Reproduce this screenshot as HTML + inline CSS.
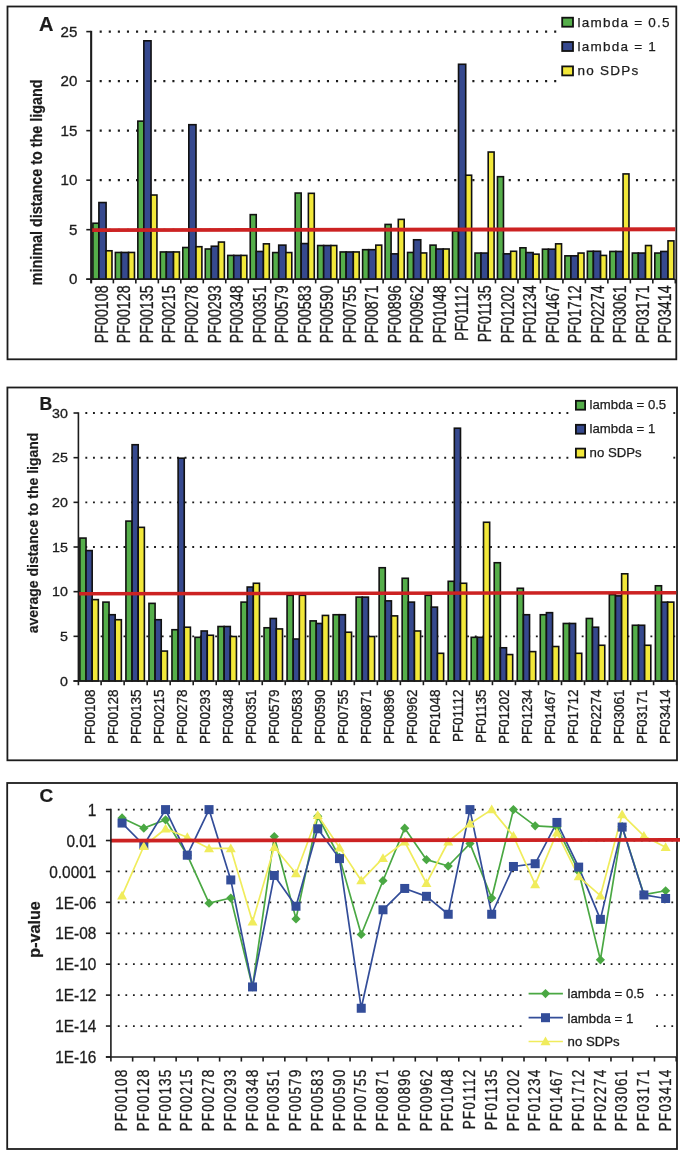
<!DOCTYPE html>
<html><head><meta charset="utf-8"><style>
html,body{margin:0;padding:0;background:#fff;}
svg{display:block;will-change:transform;}
</style></head><body>
<svg width="685" height="1155" viewBox="0 0 685 1155">
<rect width="685" height="1155" fill="#fff"/>
<rect x="7.5" y="6.5" width="668.8" height="352.8" fill="none" stroke="#1c1c1c" stroke-width="1.8"/>
<line x1="99.65" y1="229.68" x2="675.3" y2="229.68" stroke="#1c1c1c" stroke-width="2.1" stroke-dasharray="2.1 6.990"/>
<line x1="99.65" y1="180.16" x2="675.3" y2="180.16" stroke="#1c1c1c" stroke-width="2.1" stroke-dasharray="2.1 6.990"/>
<line x1="99.65" y1="130.64" x2="675.3" y2="130.64" stroke="#1c1c1c" stroke-width="2.1" stroke-dasharray="2.1 6.990"/>
<line x1="99.65" y1="81.12" x2="557" y2="81.12" stroke="#1c1c1c" stroke-width="2.1" stroke-dasharray="2.1 6.990"/>
<line x1="99.65" y1="31.599999999999994" x2="557" y2="31.599999999999994" stroke="#1c1c1c" stroke-width="2.1" stroke-dasharray="2.1 6.990"/>
<rect x="92.89" y="223.24" width="6.00" height="55.96" fill="#55ae4a" stroke="#111" stroke-width="1.6"/>
<rect x="98.89" y="202.54" width="7.20" height="76.66" fill="#36498e" stroke="#111" stroke-width="1.6"/>
<rect x="106.09" y="250.78" width="5.90" height="28.42" fill="#f2e83a" stroke="#111" stroke-width="1.6"/>
<rect x="115.37" y="252.46" width="6.00" height="26.74" fill="#55ae4a" stroke="#111" stroke-width="1.6"/>
<rect x="121.37" y="252.46" width="7.20" height="26.74" fill="#36498e" stroke="#111" stroke-width="1.6"/>
<rect x="128.57" y="252.46" width="5.90" height="26.74" fill="#f2e83a" stroke="#111" stroke-width="1.6"/>
<rect x="137.84" y="121.13" width="6.00" height="158.07" fill="#55ae4a" stroke="#111" stroke-width="1.6"/>
<rect x="143.84" y="40.81" width="7.20" height="238.39" fill="#36498e" stroke="#111" stroke-width="1.6"/>
<rect x="151.04" y="195.02" width="5.90" height="84.18" fill="#f2e83a" stroke="#111" stroke-width="1.6"/>
<rect x="160.32" y="251.96" width="6.00" height="27.24" fill="#55ae4a" stroke="#111" stroke-width="1.6"/>
<rect x="166.32" y="251.96" width="7.20" height="27.24" fill="#36498e" stroke="#111" stroke-width="1.6"/>
<rect x="173.52" y="251.96" width="5.90" height="27.24" fill="#f2e83a" stroke="#111" stroke-width="1.6"/>
<rect x="182.80" y="247.51" width="6.00" height="31.69" fill="#55ae4a" stroke="#111" stroke-width="1.6"/>
<rect x="188.80" y="124.70" width="7.20" height="154.50" fill="#36498e" stroke="#111" stroke-width="1.6"/>
<rect x="196.00" y="246.71" width="5.90" height="32.49" fill="#f2e83a" stroke="#111" stroke-width="1.6"/>
<rect x="205.27" y="248.99" width="6.00" height="30.21" fill="#55ae4a" stroke="#111" stroke-width="1.6"/>
<rect x="211.27" y="246.22" width="7.20" height="32.98" fill="#36498e" stroke="#111" stroke-width="1.6"/>
<rect x="218.47" y="242.06" width="5.90" height="37.14" fill="#f2e83a" stroke="#111" stroke-width="1.6"/>
<rect x="227.75" y="255.43" width="6.00" height="23.77" fill="#55ae4a" stroke="#111" stroke-width="1.6"/>
<rect x="233.75" y="255.43" width="7.20" height="23.77" fill="#36498e" stroke="#111" stroke-width="1.6"/>
<rect x="240.95" y="255.43" width="5.90" height="23.77" fill="#f2e83a" stroke="#111" stroke-width="1.6"/>
<rect x="250.23" y="214.63" width="6.00" height="64.57" fill="#55ae4a" stroke="#111" stroke-width="1.6"/>
<rect x="256.23" y="251.47" width="7.20" height="27.73" fill="#36498e" stroke="#111" stroke-width="1.6"/>
<rect x="263.43" y="243.84" width="5.90" height="35.36" fill="#f2e83a" stroke="#111" stroke-width="1.6"/>
<rect x="272.70" y="252.56" width="6.00" height="26.64" fill="#55ae4a" stroke="#111" stroke-width="1.6"/>
<rect x="278.70" y="245.13" width="7.20" height="34.07" fill="#36498e" stroke="#111" stroke-width="1.6"/>
<rect x="285.90" y="252.56" width="5.90" height="26.64" fill="#f2e83a" stroke="#111" stroke-width="1.6"/>
<rect x="295.18" y="193.04" width="6.00" height="86.16" fill="#55ae4a" stroke="#111" stroke-width="1.6"/>
<rect x="301.18" y="243.55" width="7.20" height="35.65" fill="#36498e" stroke="#111" stroke-width="1.6"/>
<rect x="308.38" y="193.33" width="5.90" height="85.87" fill="#f2e83a" stroke="#111" stroke-width="1.6"/>
<rect x="317.66" y="245.53" width="6.00" height="33.67" fill="#55ae4a" stroke="#111" stroke-width="1.6"/>
<rect x="323.66" y="245.53" width="7.20" height="33.67" fill="#36498e" stroke="#111" stroke-width="1.6"/>
<rect x="330.86" y="245.53" width="5.90" height="33.67" fill="#f2e83a" stroke="#111" stroke-width="1.6"/>
<rect x="340.13" y="251.96" width="6.00" height="27.24" fill="#55ae4a" stroke="#111" stroke-width="1.6"/>
<rect x="346.13" y="251.96" width="7.20" height="27.24" fill="#36498e" stroke="#111" stroke-width="1.6"/>
<rect x="353.33" y="251.96" width="5.90" height="27.24" fill="#f2e83a" stroke="#111" stroke-width="1.6"/>
<rect x="362.61" y="249.69" width="6.00" height="29.51" fill="#55ae4a" stroke="#111" stroke-width="1.6"/>
<rect x="368.61" y="249.69" width="7.20" height="29.51" fill="#36498e" stroke="#111" stroke-width="1.6"/>
<rect x="375.81" y="245.13" width="5.90" height="34.07" fill="#f2e83a" stroke="#111" stroke-width="1.6"/>
<rect x="385.09" y="224.43" width="6.00" height="54.77" fill="#55ae4a" stroke="#111" stroke-width="1.6"/>
<rect x="391.09" y="253.85" width="7.20" height="25.35" fill="#36498e" stroke="#111" stroke-width="1.6"/>
<rect x="398.29" y="219.38" width="5.90" height="59.82" fill="#f2e83a" stroke="#111" stroke-width="1.6"/>
<rect x="407.57" y="252.46" width="6.00" height="26.74" fill="#55ae4a" stroke="#111" stroke-width="1.6"/>
<rect x="413.57" y="239.78" width="7.20" height="39.42" fill="#36498e" stroke="#111" stroke-width="1.6"/>
<rect x="420.77" y="252.95" width="5.90" height="26.25" fill="#f2e83a" stroke="#111" stroke-width="1.6"/>
<rect x="430.04" y="245.13" width="6.00" height="34.07" fill="#55ae4a" stroke="#111" stroke-width="1.6"/>
<rect x="436.04" y="248.99" width="7.20" height="30.21" fill="#36498e" stroke="#111" stroke-width="1.6"/>
<rect x="443.24" y="248.99" width="5.90" height="30.21" fill="#f2e83a" stroke="#111" stroke-width="1.6"/>
<rect x="452.52" y="231.26" width="6.00" height="47.94" fill="#55ae4a" stroke="#111" stroke-width="1.6"/>
<rect x="458.52" y="64.28" width="7.20" height="214.92" fill="#36498e" stroke="#111" stroke-width="1.6"/>
<rect x="465.72" y="175.21" width="5.90" height="103.99" fill="#f2e83a" stroke="#111" stroke-width="1.6"/>
<rect x="475.00" y="253.05" width="6.00" height="26.15" fill="#55ae4a" stroke="#111" stroke-width="1.6"/>
<rect x="481.00" y="253.05" width="7.20" height="26.15" fill="#36498e" stroke="#111" stroke-width="1.6"/>
<rect x="488.20" y="152.03" width="5.90" height="127.17" fill="#f2e83a" stroke="#111" stroke-width="1.6"/>
<rect x="497.47" y="176.69" width="6.00" height="102.51" fill="#55ae4a" stroke="#111" stroke-width="1.6"/>
<rect x="503.47" y="253.85" width="7.20" height="25.35" fill="#36498e" stroke="#111" stroke-width="1.6"/>
<rect x="510.67" y="251.27" width="5.90" height="27.93" fill="#f2e83a" stroke="#111" stroke-width="1.6"/>
<rect x="519.95" y="247.80" width="6.00" height="31.40" fill="#55ae4a" stroke="#111" stroke-width="1.6"/>
<rect x="525.95" y="252.56" width="7.20" height="26.64" fill="#36498e" stroke="#111" stroke-width="1.6"/>
<rect x="533.15" y="254.14" width="5.90" height="25.06" fill="#f2e83a" stroke="#111" stroke-width="1.6"/>
<rect x="542.43" y="249.19" width="6.00" height="30.01" fill="#55ae4a" stroke="#111" stroke-width="1.6"/>
<rect x="548.43" y="249.19" width="7.20" height="30.01" fill="#36498e" stroke="#111" stroke-width="1.6"/>
<rect x="555.63" y="243.84" width="5.90" height="35.36" fill="#f2e83a" stroke="#111" stroke-width="1.6"/>
<rect x="564.90" y="255.83" width="6.00" height="23.37" fill="#55ae4a" stroke="#111" stroke-width="1.6"/>
<rect x="570.90" y="255.83" width="7.20" height="23.37" fill="#36498e" stroke="#111" stroke-width="1.6"/>
<rect x="578.10" y="253.05" width="5.90" height="26.15" fill="#f2e83a" stroke="#111" stroke-width="1.6"/>
<rect x="587.38" y="251.27" width="6.00" height="27.93" fill="#55ae4a" stroke="#111" stroke-width="1.6"/>
<rect x="593.38" y="251.27" width="7.20" height="27.93" fill="#36498e" stroke="#111" stroke-width="1.6"/>
<rect x="600.58" y="255.43" width="5.90" height="23.77" fill="#f2e83a" stroke="#111" stroke-width="1.6"/>
<rect x="609.86" y="251.47" width="6.00" height="27.73" fill="#55ae4a" stroke="#111" stroke-width="1.6"/>
<rect x="615.86" y="251.47" width="7.20" height="27.73" fill="#36498e" stroke="#111" stroke-width="1.6"/>
<rect x="623.06" y="173.92" width="5.90" height="105.28" fill="#f2e83a" stroke="#111" stroke-width="1.6"/>
<rect x="632.33" y="253.05" width="6.00" height="26.15" fill="#55ae4a" stroke="#111" stroke-width="1.6"/>
<rect x="638.33" y="253.05" width="7.20" height="26.15" fill="#36498e" stroke="#111" stroke-width="1.6"/>
<rect x="645.53" y="245.53" width="5.90" height="33.67" fill="#f2e83a" stroke="#111" stroke-width="1.6"/>
<rect x="654.81" y="253.05" width="6.00" height="26.15" fill="#55ae4a" stroke="#111" stroke-width="1.6"/>
<rect x="660.81" y="251.47" width="7.20" height="27.73" fill="#36498e" stroke="#111" stroke-width="1.6"/>
<rect x="668.01" y="240.87" width="5.90" height="38.33" fill="#f2e83a" stroke="#111" stroke-width="1.6"/>
<line x1="91.15" y1="230.1" x2="675.3" y2="229.2" stroke="#cc2222" stroke-width="3.9"/>
<line x1="91.15" y1="30.799999999999994" x2="91.15" y2="283.4" stroke="#1c1c1c" stroke-width="2.1"/>
<line x1="86.30000000000001" y1="279.2" x2="675.3" y2="279.2" stroke="#1c1c1c" stroke-width="1.6"/>
<line x1="86.30000000000001" y1="279.2" x2="90.9" y2="279.2" stroke="#1c1c1c" stroke-width="1.6"/>
<text transform="translate(77.3,284.2) scale(1.08,1)" font-family="Liberation Sans, sans-serif" font-size="14" font-weight="normal" text-anchor="end" fill="#1c1c1c" stroke="#1c1c1c" stroke-width="0.3" >0</text>
<line x1="86.30000000000001" y1="229.68" x2="90.9" y2="229.68" stroke="#1c1c1c" stroke-width="1.6"/>
<text transform="translate(77.3,234.68) scale(1.08,1)" font-family="Liberation Sans, sans-serif" font-size="14" font-weight="normal" text-anchor="end" fill="#1c1c1c" stroke="#1c1c1c" stroke-width="0.3" >5</text>
<line x1="86.30000000000001" y1="180.16" x2="90.9" y2="180.16" stroke="#1c1c1c" stroke-width="1.6"/>
<text transform="translate(77.3,185.16) scale(1.08,1)" font-family="Liberation Sans, sans-serif" font-size="14" font-weight="normal" text-anchor="end" fill="#1c1c1c" stroke="#1c1c1c" stroke-width="0.3" >10</text>
<line x1="86.30000000000001" y1="130.64" x2="90.9" y2="130.64" stroke="#1c1c1c" stroke-width="1.6"/>
<text transform="translate(77.3,135.64) scale(1.08,1)" font-family="Liberation Sans, sans-serif" font-size="14" font-weight="normal" text-anchor="end" fill="#1c1c1c" stroke="#1c1c1c" stroke-width="0.3" >15</text>
<line x1="86.30000000000001" y1="81.12" x2="90.9" y2="81.12" stroke="#1c1c1c" stroke-width="1.6"/>
<text transform="translate(77.3,86.12) scale(1.08,1)" font-family="Liberation Sans, sans-serif" font-size="14" font-weight="normal" text-anchor="end" fill="#1c1c1c" stroke="#1c1c1c" stroke-width="0.3" >20</text>
<line x1="86.30000000000001" y1="31.599999999999994" x2="90.9" y2="31.599999999999994" stroke="#1c1c1c" stroke-width="1.6"/>
<text transform="translate(77.3,36.599999999999994) scale(1.08,1)" font-family="Liberation Sans, sans-serif" font-size="14" font-weight="normal" text-anchor="end" fill="#1c1c1c" stroke="#1c1c1c" stroke-width="0.3" >25</text>
<line x1="113.38" y1="279.2" x2="113.38" y2="283.4" stroke="#1c1c1c" stroke-width="1.6"/>
<line x1="135.85" y1="279.2" x2="135.85" y2="283.4" stroke="#1c1c1c" stroke-width="1.6"/>
<line x1="158.33" y1="279.2" x2="158.33" y2="283.4" stroke="#1c1c1c" stroke-width="1.6"/>
<line x1="180.81" y1="279.2" x2="180.81" y2="283.4" stroke="#1c1c1c" stroke-width="1.6"/>
<line x1="203.28" y1="279.2" x2="203.28" y2="283.4" stroke="#1c1c1c" stroke-width="1.6"/>
<line x1="225.76" y1="279.2" x2="225.76" y2="283.4" stroke="#1c1c1c" stroke-width="1.6"/>
<line x1="248.24" y1="279.2" x2="248.24" y2="283.4" stroke="#1c1c1c" stroke-width="1.6"/>
<line x1="270.72" y1="279.2" x2="270.72" y2="283.4" stroke="#1c1c1c" stroke-width="1.6"/>
<line x1="293.19" y1="279.2" x2="293.19" y2="283.4" stroke="#1c1c1c" stroke-width="1.6"/>
<line x1="315.67" y1="279.2" x2="315.67" y2="283.4" stroke="#1c1c1c" stroke-width="1.6"/>
<line x1="338.15" y1="279.2" x2="338.15" y2="283.4" stroke="#1c1c1c" stroke-width="1.6"/>
<line x1="360.62" y1="279.2" x2="360.62" y2="283.4" stroke="#1c1c1c" stroke-width="1.6"/>
<line x1="383.10" y1="279.2" x2="383.10" y2="283.4" stroke="#1c1c1c" stroke-width="1.6"/>
<line x1="405.58" y1="279.2" x2="405.58" y2="283.4" stroke="#1c1c1c" stroke-width="1.6"/>
<line x1="428.05" y1="279.2" x2="428.05" y2="283.4" stroke="#1c1c1c" stroke-width="1.6"/>
<line x1="450.53" y1="279.2" x2="450.53" y2="283.4" stroke="#1c1c1c" stroke-width="1.6"/>
<line x1="473.01" y1="279.2" x2="473.01" y2="283.4" stroke="#1c1c1c" stroke-width="1.6"/>
<line x1="495.48" y1="279.2" x2="495.48" y2="283.4" stroke="#1c1c1c" stroke-width="1.6"/>
<line x1="517.96" y1="279.2" x2="517.96" y2="283.4" stroke="#1c1c1c" stroke-width="1.6"/>
<line x1="540.44" y1="279.2" x2="540.44" y2="283.4" stroke="#1c1c1c" stroke-width="1.6"/>
<line x1="562.92" y1="279.2" x2="562.92" y2="283.4" stroke="#1c1c1c" stroke-width="1.6"/>
<line x1="585.39" y1="279.2" x2="585.39" y2="283.4" stroke="#1c1c1c" stroke-width="1.6"/>
<line x1="607.87" y1="279.2" x2="607.87" y2="283.4" stroke="#1c1c1c" stroke-width="1.6"/>
<line x1="630.35" y1="279.2" x2="630.35" y2="283.4" stroke="#1c1c1c" stroke-width="1.6"/>
<line x1="652.82" y1="279.2" x2="652.82" y2="283.4" stroke="#1c1c1c" stroke-width="1.6"/>
<line x1="675.30" y1="279.2" x2="675.30" y2="283.4" stroke="#1c1c1c" stroke-width="1.6"/>
<text transform="translate(107.8,285.4) rotate(-90) scale(0.81,1.0)" font-family="Liberation Sans, sans-serif" font-size="17.6" font-weight="normal" text-anchor="end" fill="#1c1c1c" stroke="#1c1c1c" stroke-width="0.3" >PF00108</text>
<text transform="translate(130.34,285.4) rotate(-90) scale(0.81,1.0)" font-family="Liberation Sans, sans-serif" font-size="17.6" font-weight="normal" text-anchor="end" fill="#1c1c1c" stroke="#1c1c1c" stroke-width="0.3" >PF00128</text>
<text transform="translate(152.88,285.4) rotate(-90) scale(0.81,1.0)" font-family="Liberation Sans, sans-serif" font-size="17.6" font-weight="normal" text-anchor="end" fill="#1c1c1c" stroke="#1c1c1c" stroke-width="0.3" >PF00135</text>
<text transform="translate(175.42,285.4) rotate(-90) scale(0.81,1.0)" font-family="Liberation Sans, sans-serif" font-size="17.6" font-weight="normal" text-anchor="end" fill="#1c1c1c" stroke="#1c1c1c" stroke-width="0.3" >PF00215</text>
<text transform="translate(197.96,285.4) rotate(-90) scale(0.81,1.0)" font-family="Liberation Sans, sans-serif" font-size="17.6" font-weight="normal" text-anchor="end" fill="#1c1c1c" stroke="#1c1c1c" stroke-width="0.3" >PF00278</text>
<text transform="translate(220.49999999999997,285.4) rotate(-90) scale(0.81,1.0)" font-family="Liberation Sans, sans-serif" font-size="17.6" font-weight="normal" text-anchor="end" fill="#1c1c1c" stroke="#1c1c1c" stroke-width="0.3" >PF00293</text>
<text transform="translate(243.04,285.4) rotate(-90) scale(0.81,1.0)" font-family="Liberation Sans, sans-serif" font-size="17.6" font-weight="normal" text-anchor="end" fill="#1c1c1c" stroke="#1c1c1c" stroke-width="0.3" >PF00348</text>
<text transform="translate(265.58000000000004,285.4) rotate(-90) scale(0.81,1.0)" font-family="Liberation Sans, sans-serif" font-size="17.6" font-weight="normal" text-anchor="end" fill="#1c1c1c" stroke="#1c1c1c" stroke-width="0.3" >PF00351</text>
<text transform="translate(288.12,285.4) rotate(-90) scale(0.81,1.0)" font-family="Liberation Sans, sans-serif" font-size="17.6" font-weight="normal" text-anchor="end" fill="#1c1c1c" stroke="#1c1c1c" stroke-width="0.3" >PF00579</text>
<text transform="translate(310.66,285.4) rotate(-90) scale(0.81,1.0)" font-family="Liberation Sans, sans-serif" font-size="17.6" font-weight="normal" text-anchor="end" fill="#1c1c1c" stroke="#1c1c1c" stroke-width="0.3" >PF00583</text>
<text transform="translate(333.2,285.4) rotate(-90) scale(0.81,1.0)" font-family="Liberation Sans, sans-serif" font-size="17.6" font-weight="normal" text-anchor="end" fill="#1c1c1c" stroke="#1c1c1c" stroke-width="0.3" >PF00590</text>
<text transform="translate(355.74,285.4) rotate(-90) scale(0.81,1.0)" font-family="Liberation Sans, sans-serif" font-size="17.6" font-weight="normal" text-anchor="end" fill="#1c1c1c" stroke="#1c1c1c" stroke-width="0.3" >PF00755</text>
<text transform="translate(378.28000000000003,285.4) rotate(-90) scale(0.81,1.0)" font-family="Liberation Sans, sans-serif" font-size="17.6" font-weight="normal" text-anchor="end" fill="#1c1c1c" stroke="#1c1c1c" stroke-width="0.3" >PF00871</text>
<text transform="translate(400.82,285.4) rotate(-90) scale(0.81,1.0)" font-family="Liberation Sans, sans-serif" font-size="17.6" font-weight="normal" text-anchor="end" fill="#1c1c1c" stroke="#1c1c1c" stroke-width="0.3" >PF00896</text>
<text transform="translate(423.36,285.4) rotate(-90) scale(0.81,1.0)" font-family="Liberation Sans, sans-serif" font-size="17.6" font-weight="normal" text-anchor="end" fill="#1c1c1c" stroke="#1c1c1c" stroke-width="0.3" >PF00962</text>
<text transform="translate(445.9,285.4) rotate(-90) scale(0.81,1.0)" font-family="Liberation Sans, sans-serif" font-size="17.6" font-weight="normal" text-anchor="end" fill="#1c1c1c" stroke="#1c1c1c" stroke-width="0.3" >PF01048</text>
<text transform="translate(468.44,285.4) rotate(-90) scale(0.81,1.0)" font-family="Liberation Sans, sans-serif" font-size="17.6" font-weight="normal" text-anchor="end" fill="#1c1c1c" stroke="#1c1c1c" stroke-width="0.3" >PF01112</text>
<text transform="translate(490.98,285.4) rotate(-90) scale(0.81,1.0)" font-family="Liberation Sans, sans-serif" font-size="17.6" font-weight="normal" text-anchor="end" fill="#1c1c1c" stroke="#1c1c1c" stroke-width="0.3" >PF01135</text>
<text transform="translate(513.52,285.4) rotate(-90) scale(0.81,1.0)" font-family="Liberation Sans, sans-serif" font-size="17.6" font-weight="normal" text-anchor="end" fill="#1c1c1c" stroke="#1c1c1c" stroke-width="0.3" >PF01202</text>
<text transform="translate(536.0600000000001,285.4) rotate(-90) scale(0.81,1.0)" font-family="Liberation Sans, sans-serif" font-size="17.6" font-weight="normal" text-anchor="end" fill="#1c1c1c" stroke="#1c1c1c" stroke-width="0.3" >PF01234</text>
<text transform="translate(558.6,285.4) rotate(-90) scale(0.81,1.0)" font-family="Liberation Sans, sans-serif" font-size="17.6" font-weight="normal" text-anchor="end" fill="#1c1c1c" stroke="#1c1c1c" stroke-width="0.3" >PF01467</text>
<text transform="translate(581.14,285.4) rotate(-90) scale(0.81,1.0)" font-family="Liberation Sans, sans-serif" font-size="17.6" font-weight="normal" text-anchor="end" fill="#1c1c1c" stroke="#1c1c1c" stroke-width="0.3" >PF01712</text>
<text transform="translate(603.6800000000001,285.4) rotate(-90) scale(0.81,1.0)" font-family="Liberation Sans, sans-serif" font-size="17.6" font-weight="normal" text-anchor="end" fill="#1c1c1c" stroke="#1c1c1c" stroke-width="0.3" >PF02274</text>
<text transform="translate(626.22,285.4) rotate(-90) scale(0.81,1.0)" font-family="Liberation Sans, sans-serif" font-size="17.6" font-weight="normal" text-anchor="end" fill="#1c1c1c" stroke="#1c1c1c" stroke-width="0.3" >PF03061</text>
<text transform="translate(648.7600000000001,285.4) rotate(-90) scale(0.81,1.0)" font-family="Liberation Sans, sans-serif" font-size="17.6" font-weight="normal" text-anchor="end" fill="#1c1c1c" stroke="#1c1c1c" stroke-width="0.3" >PF03171</text>
<text transform="translate(671.3000000000001,285.4) rotate(-90) scale(0.81,1.0)" font-family="Liberation Sans, sans-serif" font-size="17.6" font-weight="normal" text-anchor="end" fill="#1c1c1c" stroke="#1c1c1c" stroke-width="0.3" >PF03414</text>
<text transform="translate(41.8,182.4) rotate(-90) scale(1.02,1.2)" font-family="Liberation Sans, sans-serif" font-size="14.1" font-weight="bold" text-anchor="middle" fill="#1c1c1c" stroke="#1c1c1c" stroke-width="0.2" >minimal distance to the ligand</text>
<text x="39.0" y="31.3" font-family="Liberation Sans, sans-serif" font-size="20" font-weight="bold" text-anchor="start" fill="#1c1c1c" stroke="#1c1c1c" stroke-width="0.2" >A</text>
<rect x="557" y="9" width="118" height="81" fill="#fff"/>
<rect x="562.2" y="17.7" width="10.8" height="9.0" fill="#55ae4a" stroke="#111" stroke-width="1.8"/>
<text x="577.4" y="26.5" font-family="Liberation Sans, sans-serif" font-size="13.5" font-weight="normal" text-anchor="start" fill="#1c1c1c" stroke="#1c1c1c" stroke-width="0.25" letter-spacing="1.25">lambda = 0.5</text>
<rect x="562.2" y="42.0" width="10.8" height="9.0" fill="#36498e" stroke="#111" stroke-width="1.8"/>
<text x="577.4" y="50.5" font-family="Liberation Sans, sans-serif" font-size="13.5" font-weight="normal" text-anchor="start" fill="#1c1c1c" stroke="#1c1c1c" stroke-width="0.25" letter-spacing="1.25">lambda = 1</text>
<rect x="562.2" y="66.4" width="10.8" height="9.0" fill="#f2e83a" stroke="#111" stroke-width="1.8"/>
<text x="577.4" y="74.6" font-family="Liberation Sans, sans-serif" font-size="13.5" font-weight="normal" text-anchor="start" fill="#1c1c1c" stroke="#1c1c1c" stroke-width="0.25" letter-spacing="1.25">no SDPs</text>
<rect x="7.4" y="387.5" width="669.6" height="372.79999999999995" fill="none" stroke="#1c1c1c" stroke-width="1.8"/>
<line x1="85.35" y1="636.335" x2="676.6" y2="636.335" stroke="#1c1c1c" stroke-width="1.9" stroke-dasharray="1.9 5.736"/>
<line x1="85.35" y1="547.005" x2="676.6" y2="547.005" stroke="#1c1c1c" stroke-width="1.9" stroke-dasharray="1.9 5.736"/>
<line x1="85.35" y1="502.34000000000003" x2="676.6" y2="502.34000000000003" stroke="#1c1c1c" stroke-width="1.9" stroke-dasharray="1.9 5.736"/>
<line x1="85.35" y1="457.675" x2="569" y2="457.675" stroke="#1c1c1c" stroke-width="1.9" stroke-dasharray="1.9 5.736"/>
<line x1="673.32" y1="457.675" x2="676.6" y2="457.675" stroke="#1c1c1c" stroke-width="1.9" stroke-dasharray="1.9 5.736"/>
<line x1="85.35" y1="413.01" x2="569" y2="413.01" stroke="#1c1c1c" stroke-width="1.9" stroke-dasharray="1.9 5.736"/>
<line x1="673.32" y1="413.01" x2="676.6" y2="413.01" stroke="#1c1c1c" stroke-width="1.9" stroke-dasharray="1.9 5.736"/>
<rect x="79.88" y="538.07" width="6.15" height="142.93" fill="#55ae4a" stroke="#111" stroke-width="1.6"/>
<rect x="86.03" y="550.58" width="6.15" height="130.42" fill="#36498e" stroke="#111" stroke-width="1.6"/>
<rect x="92.18" y="599.62" width="6.15" height="81.38" fill="#f2e83a" stroke="#111" stroke-width="1.6"/>
<rect x="102.90" y="602.12" width="6.15" height="78.88" fill="#55ae4a" stroke="#111" stroke-width="1.6"/>
<rect x="109.05" y="614.72" width="6.15" height="66.28" fill="#36498e" stroke="#111" stroke-width="1.6"/>
<rect x="115.20" y="619.72" width="6.15" height="61.28" fill="#f2e83a" stroke="#111" stroke-width="1.6"/>
<rect x="125.92" y="521.10" width="6.15" height="159.90" fill="#55ae4a" stroke="#111" stroke-width="1.6"/>
<rect x="132.07" y="444.72" width="6.15" height="236.28" fill="#36498e" stroke="#111" stroke-width="1.6"/>
<rect x="138.22" y="527.35" width="6.15" height="153.65" fill="#f2e83a" stroke="#111" stroke-width="1.6"/>
<rect x="148.94" y="603.37" width="6.15" height="77.63" fill="#55ae4a" stroke="#111" stroke-width="1.6"/>
<rect x="155.09" y="619.72" width="6.15" height="61.28" fill="#36498e" stroke="#111" stroke-width="1.6"/>
<rect x="161.24" y="651.07" width="6.15" height="29.93" fill="#f2e83a" stroke="#111" stroke-width="1.6"/>
<rect x="171.96" y="629.72" width="6.15" height="51.28" fill="#55ae4a" stroke="#111" stroke-width="1.6"/>
<rect x="178.11" y="458.21" width="6.15" height="222.79" fill="#36498e" stroke="#111" stroke-width="1.6"/>
<rect x="184.26" y="627.22" width="6.15" height="53.78" fill="#f2e83a" stroke="#111" stroke-width="1.6"/>
<rect x="194.98" y="637.32" width="6.15" height="43.68" fill="#55ae4a" stroke="#111" stroke-width="1.6"/>
<rect x="201.13" y="630.98" width="6.15" height="50.02" fill="#36498e" stroke="#111" stroke-width="1.6"/>
<rect x="207.28" y="635.26" width="6.15" height="45.74" fill="#f2e83a" stroke="#111" stroke-width="1.6"/>
<rect x="218.00" y="626.51" width="6.15" height="54.49" fill="#55ae4a" stroke="#111" stroke-width="1.6"/>
<rect x="224.15" y="626.51" width="6.15" height="54.49" fill="#36498e" stroke="#111" stroke-width="1.6"/>
<rect x="230.30" y="636.51" width="6.15" height="44.49" fill="#f2e83a" stroke="#111" stroke-width="1.6"/>
<rect x="241.02" y="602.12" width="6.15" height="78.88" fill="#55ae4a" stroke="#111" stroke-width="1.6"/>
<rect x="247.17" y="587.02" width="6.15" height="93.98" fill="#36498e" stroke="#111" stroke-width="1.6"/>
<rect x="253.32" y="583.27" width="6.15" height="97.73" fill="#f2e83a" stroke="#111" stroke-width="1.6"/>
<rect x="264.04" y="627.76" width="6.15" height="53.24" fill="#55ae4a" stroke="#111" stroke-width="1.6"/>
<rect x="270.19" y="618.47" width="6.15" height="62.53" fill="#36498e" stroke="#111" stroke-width="1.6"/>
<rect x="276.34" y="628.92" width="6.15" height="52.08" fill="#f2e83a" stroke="#111" stroke-width="1.6"/>
<rect x="287.06" y="595.33" width="6.15" height="85.67" fill="#55ae4a" stroke="#111" stroke-width="1.6"/>
<rect x="293.21" y="639.01" width="6.15" height="41.99" fill="#36498e" stroke="#111" stroke-width="1.6"/>
<rect x="299.36" y="595.33" width="6.15" height="85.67" fill="#f2e83a" stroke="#111" stroke-width="1.6"/>
<rect x="310.08" y="620.88" width="6.15" height="60.12" fill="#55ae4a" stroke="#111" stroke-width="1.6"/>
<rect x="316.23" y="623.47" width="6.15" height="57.53" fill="#36498e" stroke="#111" stroke-width="1.6"/>
<rect x="322.38" y="615.43" width="6.15" height="65.57" fill="#f2e83a" stroke="#111" stroke-width="1.6"/>
<rect x="333.10" y="614.72" width="6.15" height="66.28" fill="#55ae4a" stroke="#111" stroke-width="1.6"/>
<rect x="339.25" y="614.72" width="6.15" height="66.28" fill="#36498e" stroke="#111" stroke-width="1.6"/>
<rect x="345.40" y="632.23" width="6.15" height="48.77" fill="#f2e83a" stroke="#111" stroke-width="1.6"/>
<rect x="356.12" y="597.12" width="6.15" height="83.88" fill="#55ae4a" stroke="#111" stroke-width="1.6"/>
<rect x="362.27" y="597.12" width="6.15" height="83.88" fill="#36498e" stroke="#111" stroke-width="1.6"/>
<rect x="368.42" y="636.51" width="6.15" height="44.49" fill="#f2e83a" stroke="#111" stroke-width="1.6"/>
<rect x="379.13" y="567.73" width="6.15" height="113.27" fill="#55ae4a" stroke="#111" stroke-width="1.6"/>
<rect x="385.28" y="600.87" width="6.15" height="80.13" fill="#36498e" stroke="#111" stroke-width="1.6"/>
<rect x="391.43" y="615.88" width="6.15" height="65.12" fill="#f2e83a" stroke="#111" stroke-width="1.6"/>
<rect x="402.15" y="578.27" width="6.15" height="102.73" fill="#55ae4a" stroke="#111" stroke-width="1.6"/>
<rect x="408.30" y="602.12" width="6.15" height="78.88" fill="#36498e" stroke="#111" stroke-width="1.6"/>
<rect x="414.45" y="630.98" width="6.15" height="50.02" fill="#f2e83a" stroke="#111" stroke-width="1.6"/>
<rect x="425.17" y="595.33" width="6.15" height="85.67" fill="#55ae4a" stroke="#111" stroke-width="1.6"/>
<rect x="431.32" y="607.12" width="6.15" height="73.88" fill="#36498e" stroke="#111" stroke-width="1.6"/>
<rect x="437.47" y="653.31" width="6.15" height="27.69" fill="#f2e83a" stroke="#111" stroke-width="1.6"/>
<rect x="448.19" y="581.31" width="6.15" height="99.69" fill="#55ae4a" stroke="#111" stroke-width="1.6"/>
<rect x="454.34" y="428.20" width="6.15" height="252.80" fill="#36498e" stroke="#111" stroke-width="1.6"/>
<rect x="460.49" y="583.27" width="6.15" height="97.73" fill="#f2e83a" stroke="#111" stroke-width="1.6"/>
<rect x="471.21" y="637.32" width="6.15" height="43.68" fill="#55ae4a" stroke="#111" stroke-width="1.6"/>
<rect x="477.36" y="637.32" width="6.15" height="43.68" fill="#36498e" stroke="#111" stroke-width="1.6"/>
<rect x="483.51" y="522.26" width="6.15" height="158.74" fill="#f2e83a" stroke="#111" stroke-width="1.6"/>
<rect x="494.23" y="562.73" width="6.15" height="118.27" fill="#55ae4a" stroke="#111" stroke-width="1.6"/>
<rect x="500.38" y="647.77" width="6.15" height="33.23" fill="#36498e" stroke="#111" stroke-width="1.6"/>
<rect x="506.53" y="654.56" width="6.15" height="26.44" fill="#f2e83a" stroke="#111" stroke-width="1.6"/>
<rect x="517.25" y="588.28" width="6.15" height="92.72" fill="#55ae4a" stroke="#111" stroke-width="1.6"/>
<rect x="523.40" y="614.72" width="6.15" height="66.28" fill="#36498e" stroke="#111" stroke-width="1.6"/>
<rect x="529.55" y="651.61" width="6.15" height="29.39" fill="#f2e83a" stroke="#111" stroke-width="1.6"/>
<rect x="540.27" y="614.72" width="6.15" height="66.28" fill="#55ae4a" stroke="#111" stroke-width="1.6"/>
<rect x="546.42" y="612.66" width="6.15" height="68.34" fill="#36498e" stroke="#111" stroke-width="1.6"/>
<rect x="552.57" y="646.52" width="6.15" height="34.48" fill="#f2e83a" stroke="#111" stroke-width="1.6"/>
<rect x="563.29" y="623.47" width="6.15" height="57.53" fill="#55ae4a" stroke="#111" stroke-width="1.6"/>
<rect x="569.44" y="623.47" width="6.15" height="57.53" fill="#36498e" stroke="#111" stroke-width="1.6"/>
<rect x="575.59" y="653.31" width="6.15" height="27.69" fill="#f2e83a" stroke="#111" stroke-width="1.6"/>
<rect x="586.31" y="618.47" width="6.15" height="62.53" fill="#55ae4a" stroke="#111" stroke-width="1.6"/>
<rect x="592.46" y="627.22" width="6.15" height="53.78" fill="#36498e" stroke="#111" stroke-width="1.6"/>
<rect x="598.61" y="645.27" width="6.15" height="35.73" fill="#f2e83a" stroke="#111" stroke-width="1.6"/>
<rect x="609.33" y="594.62" width="6.15" height="86.38" fill="#55ae4a" stroke="#111" stroke-width="1.6"/>
<rect x="615.48" y="595.87" width="6.15" height="85.13" fill="#36498e" stroke="#111" stroke-width="1.6"/>
<rect x="621.63" y="573.80" width="6.15" height="107.20" fill="#f2e83a" stroke="#111" stroke-width="1.6"/>
<rect x="632.35" y="625.26" width="6.15" height="55.74" fill="#55ae4a" stroke="#111" stroke-width="1.6"/>
<rect x="638.50" y="625.26" width="6.15" height="55.74" fill="#36498e" stroke="#111" stroke-width="1.6"/>
<rect x="644.65" y="645.27" width="6.15" height="35.73" fill="#f2e83a" stroke="#111" stroke-width="1.6"/>
<rect x="655.37" y="585.77" width="6.15" height="95.23" fill="#55ae4a" stroke="#111" stroke-width="1.6"/>
<rect x="661.52" y="602.12" width="6.15" height="78.88" fill="#36498e" stroke="#111" stroke-width="1.6"/>
<rect x="667.67" y="602.12" width="6.15" height="78.88" fill="#f2e83a" stroke="#111" stroke-width="1.6"/>
<line x1="78.4" y1="593.8" x2="676.3" y2="592.7" stroke="#cc2222" stroke-width="3.6"/>
<line x1="78.4" y1="412.21" x2="78.4" y2="685.2" stroke="#1c1c1c" stroke-width="1.6"/>
<line x1="73.5" y1="681.0" x2="676.6" y2="681.0" stroke="#1c1c1c" stroke-width="1.6"/>
<line x1="73.5" y1="681.0" x2="78.1" y2="681.0" stroke="#1c1c1c" stroke-width="1.6"/>
<text transform="translate(67.9,685.7) scale(1.08,1)" font-family="Liberation Sans, sans-serif" font-size="13.2" font-weight="normal" text-anchor="end" fill="#1c1c1c" stroke="#1c1c1c" stroke-width="0.3" >0</text>
<line x1="73.5" y1="636.335" x2="78.1" y2="636.335" stroke="#1c1c1c" stroke-width="1.6"/>
<text transform="translate(67.9,641.0350000000001) scale(1.08,1)" font-family="Liberation Sans, sans-serif" font-size="13.2" font-weight="normal" text-anchor="end" fill="#1c1c1c" stroke="#1c1c1c" stroke-width="0.3" >5</text>
<line x1="73.5" y1="591.67" x2="78.1" y2="591.67" stroke="#1c1c1c" stroke-width="1.6"/>
<text transform="translate(67.9,596.37) scale(1.08,1)" font-family="Liberation Sans, sans-serif" font-size="13.2" font-weight="normal" text-anchor="end" fill="#1c1c1c" stroke="#1c1c1c" stroke-width="0.3" >10</text>
<line x1="73.5" y1="547.005" x2="78.1" y2="547.005" stroke="#1c1c1c" stroke-width="1.6"/>
<text transform="translate(67.9,551.705) scale(1.08,1)" font-family="Liberation Sans, sans-serif" font-size="13.2" font-weight="normal" text-anchor="end" fill="#1c1c1c" stroke="#1c1c1c" stroke-width="0.3" >15</text>
<line x1="73.5" y1="502.34000000000003" x2="78.1" y2="502.34000000000003" stroke="#1c1c1c" stroke-width="1.6"/>
<text transform="translate(67.9,507.04) scale(1.08,1)" font-family="Liberation Sans, sans-serif" font-size="13.2" font-weight="normal" text-anchor="end" fill="#1c1c1c" stroke="#1c1c1c" stroke-width="0.3" >20</text>
<line x1="73.5" y1="457.675" x2="78.1" y2="457.675" stroke="#1c1c1c" stroke-width="1.6"/>
<text transform="translate(67.9,462.375) scale(1.08,1)" font-family="Liberation Sans, sans-serif" font-size="13.2" font-weight="normal" text-anchor="end" fill="#1c1c1c" stroke="#1c1c1c" stroke-width="0.3" >25</text>
<line x1="73.5" y1="413.01" x2="78.1" y2="413.01" stroke="#1c1c1c" stroke-width="1.6"/>
<text transform="translate(67.9,417.71) scale(1.08,1)" font-family="Liberation Sans, sans-serif" font-size="13.2" font-weight="normal" text-anchor="end" fill="#1c1c1c" stroke="#1c1c1c" stroke-width="0.3" >30</text>
<line x1="101.12" y1="681.0" x2="101.12" y2="685.2" stroke="#1c1c1c" stroke-width="1.6"/>
<line x1="124.14" y1="681.0" x2="124.14" y2="685.2" stroke="#1c1c1c" stroke-width="1.6"/>
<line x1="147.16" y1="681.0" x2="147.16" y2="685.2" stroke="#1c1c1c" stroke-width="1.6"/>
<line x1="170.18" y1="681.0" x2="170.18" y2="685.2" stroke="#1c1c1c" stroke-width="1.6"/>
<line x1="193.20" y1="681.0" x2="193.20" y2="685.2" stroke="#1c1c1c" stroke-width="1.6"/>
<line x1="216.22" y1="681.0" x2="216.22" y2="685.2" stroke="#1c1c1c" stroke-width="1.6"/>
<line x1="239.23" y1="681.0" x2="239.23" y2="685.2" stroke="#1c1c1c" stroke-width="1.6"/>
<line x1="262.25" y1="681.0" x2="262.25" y2="685.2" stroke="#1c1c1c" stroke-width="1.6"/>
<line x1="285.27" y1="681.0" x2="285.27" y2="685.2" stroke="#1c1c1c" stroke-width="1.6"/>
<line x1="308.29" y1="681.0" x2="308.29" y2="685.2" stroke="#1c1c1c" stroke-width="1.6"/>
<line x1="331.31" y1="681.0" x2="331.31" y2="685.2" stroke="#1c1c1c" stroke-width="1.6"/>
<line x1="354.33" y1="681.0" x2="354.33" y2="685.2" stroke="#1c1c1c" stroke-width="1.6"/>
<line x1="377.35" y1="681.0" x2="377.35" y2="685.2" stroke="#1c1c1c" stroke-width="1.6"/>
<line x1="400.37" y1="681.0" x2="400.37" y2="685.2" stroke="#1c1c1c" stroke-width="1.6"/>
<line x1="423.39" y1="681.0" x2="423.39" y2="685.2" stroke="#1c1c1c" stroke-width="1.6"/>
<line x1="446.41" y1="681.0" x2="446.41" y2="685.2" stroke="#1c1c1c" stroke-width="1.6"/>
<line x1="469.43" y1="681.0" x2="469.43" y2="685.2" stroke="#1c1c1c" stroke-width="1.6"/>
<line x1="492.45" y1="681.0" x2="492.45" y2="685.2" stroke="#1c1c1c" stroke-width="1.6"/>
<line x1="515.47" y1="681.0" x2="515.47" y2="685.2" stroke="#1c1c1c" stroke-width="1.6"/>
<line x1="538.48" y1="681.0" x2="538.48" y2="685.2" stroke="#1c1c1c" stroke-width="1.6"/>
<line x1="561.50" y1="681.0" x2="561.50" y2="685.2" stroke="#1c1c1c" stroke-width="1.6"/>
<line x1="584.52" y1="681.0" x2="584.52" y2="685.2" stroke="#1c1c1c" stroke-width="1.6"/>
<line x1="607.54" y1="681.0" x2="607.54" y2="685.2" stroke="#1c1c1c" stroke-width="1.6"/>
<line x1="630.56" y1="681.0" x2="630.56" y2="685.2" stroke="#1c1c1c" stroke-width="1.6"/>
<line x1="653.58" y1="681.0" x2="653.58" y2="685.2" stroke="#1c1c1c" stroke-width="1.6"/>
<line x1="676.60" y1="681.0" x2="676.60" y2="685.2" stroke="#1c1c1c" stroke-width="1.6"/>
<text transform="translate(95.45,689.5) rotate(-90) scale(0.885,1.0)" font-family="Liberation Sans, sans-serif" font-size="15.2" font-weight="normal" text-anchor="end" fill="#1c1c1c" stroke="#1c1c1c" stroke-width="0.3" >PF00108</text>
<text transform="translate(118.44,689.5) rotate(-90) scale(0.885,1.0)" font-family="Liberation Sans, sans-serif" font-size="15.2" font-weight="normal" text-anchor="end" fill="#1c1c1c" stroke="#1c1c1c" stroke-width="0.3" >PF00128</text>
<text transform="translate(141.43,689.5) rotate(-90) scale(0.885,1.0)" font-family="Liberation Sans, sans-serif" font-size="15.2" font-weight="normal" text-anchor="end" fill="#1c1c1c" stroke="#1c1c1c" stroke-width="0.3" >PF00135</text>
<text transform="translate(164.42000000000002,689.5) rotate(-90) scale(0.885,1.0)" font-family="Liberation Sans, sans-serif" font-size="15.2" font-weight="normal" text-anchor="end" fill="#1c1c1c" stroke="#1c1c1c" stroke-width="0.3" >PF00215</text>
<text transform="translate(187.41000000000003,689.5) rotate(-90) scale(0.885,1.0)" font-family="Liberation Sans, sans-serif" font-size="15.2" font-weight="normal" text-anchor="end" fill="#1c1c1c" stroke="#1c1c1c" stroke-width="0.3" >PF00278</text>
<text transform="translate(210.4,689.5) rotate(-90) scale(0.885,1.0)" font-family="Liberation Sans, sans-serif" font-size="15.2" font-weight="normal" text-anchor="end" fill="#1c1c1c" stroke="#1c1c1c" stroke-width="0.3" >PF00293</text>
<text transform="translate(233.39000000000001,689.5) rotate(-90) scale(0.885,1.0)" font-family="Liberation Sans, sans-serif" font-size="15.2" font-weight="normal" text-anchor="end" fill="#1c1c1c" stroke="#1c1c1c" stroke-width="0.3" >PF00348</text>
<text transform="translate(256.38,689.5) rotate(-90) scale(0.885,1.0)" font-family="Liberation Sans, sans-serif" font-size="15.2" font-weight="normal" text-anchor="end" fill="#1c1c1c" stroke="#1c1c1c" stroke-width="0.3" >PF00351</text>
<text transform="translate(279.37,689.5) rotate(-90) scale(0.885,1.0)" font-family="Liberation Sans, sans-serif" font-size="15.2" font-weight="normal" text-anchor="end" fill="#1c1c1c" stroke="#1c1c1c" stroke-width="0.3" >PF00579</text>
<text transform="translate(302.36,689.5) rotate(-90) scale(0.885,1.0)" font-family="Liberation Sans, sans-serif" font-size="15.2" font-weight="normal" text-anchor="end" fill="#1c1c1c" stroke="#1c1c1c" stroke-width="0.3" >PF00583</text>
<text transform="translate(325.34999999999997,689.5) rotate(-90) scale(0.885,1.0)" font-family="Liberation Sans, sans-serif" font-size="15.2" font-weight="normal" text-anchor="end" fill="#1c1c1c" stroke="#1c1c1c" stroke-width="0.3" >PF00590</text>
<text transform="translate(348.34,689.5) rotate(-90) scale(0.885,1.0)" font-family="Liberation Sans, sans-serif" font-size="15.2" font-weight="normal" text-anchor="end" fill="#1c1c1c" stroke="#1c1c1c" stroke-width="0.3" >PF00755</text>
<text transform="translate(371.33,689.5) rotate(-90) scale(0.885,1.0)" font-family="Liberation Sans, sans-serif" font-size="15.2" font-weight="normal" text-anchor="end" fill="#1c1c1c" stroke="#1c1c1c" stroke-width="0.3" >PF00871</text>
<text transform="translate(394.32,689.5) rotate(-90) scale(0.885,1.0)" font-family="Liberation Sans, sans-serif" font-size="15.2" font-weight="normal" text-anchor="end" fill="#1c1c1c" stroke="#1c1c1c" stroke-width="0.3" >PF00896</text>
<text transform="translate(417.31,689.5) rotate(-90) scale(0.885,1.0)" font-family="Liberation Sans, sans-serif" font-size="15.2" font-weight="normal" text-anchor="end" fill="#1c1c1c" stroke="#1c1c1c" stroke-width="0.3" >PF00962</text>
<text transform="translate(440.3,689.5) rotate(-90) scale(0.885,1.0)" font-family="Liberation Sans, sans-serif" font-size="15.2" font-weight="normal" text-anchor="end" fill="#1c1c1c" stroke="#1c1c1c" stroke-width="0.3" >PF01048</text>
<text transform="translate(463.29,689.5) rotate(-90) scale(0.885,1.0)" font-family="Liberation Sans, sans-serif" font-size="15.2" font-weight="normal" text-anchor="end" fill="#1c1c1c" stroke="#1c1c1c" stroke-width="0.3" >PF01112</text>
<text transform="translate(486.28000000000003,689.5) rotate(-90) scale(0.885,1.0)" font-family="Liberation Sans, sans-serif" font-size="15.2" font-weight="normal" text-anchor="end" fill="#1c1c1c" stroke="#1c1c1c" stroke-width="0.3" >PF01135</text>
<text transform="translate(509.27000000000004,689.5) rotate(-90) scale(0.885,1.0)" font-family="Liberation Sans, sans-serif" font-size="15.2" font-weight="normal" text-anchor="end" fill="#1c1c1c" stroke="#1c1c1c" stroke-width="0.3" >PF01202</text>
<text transform="translate(532.2599999999999,689.5) rotate(-90) scale(0.885,1.0)" font-family="Liberation Sans, sans-serif" font-size="15.2" font-weight="normal" text-anchor="end" fill="#1c1c1c" stroke="#1c1c1c" stroke-width="0.3" >PF01234</text>
<text transform="translate(555.2499999999999,689.5) rotate(-90) scale(0.885,1.0)" font-family="Liberation Sans, sans-serif" font-size="15.2" font-weight="normal" text-anchor="end" fill="#1c1c1c" stroke="#1c1c1c" stroke-width="0.3" >PF01467</text>
<text transform="translate(578.2399999999999,689.5) rotate(-90) scale(0.885,1.0)" font-family="Liberation Sans, sans-serif" font-size="15.2" font-weight="normal" text-anchor="end" fill="#1c1c1c" stroke="#1c1c1c" stroke-width="0.3" >PF01712</text>
<text transform="translate(601.2299999999999,689.5) rotate(-90) scale(0.885,1.0)" font-family="Liberation Sans, sans-serif" font-size="15.2" font-weight="normal" text-anchor="end" fill="#1c1c1c" stroke="#1c1c1c" stroke-width="0.3" >PF02274</text>
<text transform="translate(624.2199999999999,689.5) rotate(-90) scale(0.885,1.0)" font-family="Liberation Sans, sans-serif" font-size="15.2" font-weight="normal" text-anchor="end" fill="#1c1c1c" stroke="#1c1c1c" stroke-width="0.3" >PF03061</text>
<text transform="translate(647.2099999999999,689.5) rotate(-90) scale(0.885,1.0)" font-family="Liberation Sans, sans-serif" font-size="15.2" font-weight="normal" text-anchor="end" fill="#1c1c1c" stroke="#1c1c1c" stroke-width="0.3" >PF03171</text>
<text transform="translate(670.1999999999999,689.5) rotate(-90) scale(0.885,1.0)" font-family="Liberation Sans, sans-serif" font-size="15.2" font-weight="normal" text-anchor="end" fill="#1c1c1c" stroke="#1c1c1c" stroke-width="0.3" >PF03414</text>
<text transform="translate(37.8,533) rotate(-90) scale(1.0,1.0)" font-family="Liberation Sans, sans-serif" font-size="14.0" font-weight="bold" text-anchor="middle" fill="#1c1c1c" stroke="#1c1c1c" stroke-width="0.2" >average distance to the ligand</text>
<text x="39.6" y="409.9" font-family="Liberation Sans, sans-serif" font-size="17.6" font-weight="bold" text-anchor="start" fill="#1c1c1c" stroke="#1c1c1c" stroke-width="0.2" >B</text>
<rect x="569" y="392" width="104" height="73" fill="#fff"/>
<rect x="575.9" y="400.8" width="9.2" height="8.9" fill="#55ae4a" stroke="#111" stroke-width="1.8"/>
<text x="589.6" y="408.9" font-family="Liberation Sans, sans-serif" font-size="13.2" font-weight="normal" text-anchor="start" fill="#1c1c1c" stroke="#1c1c1c" stroke-width="0.25" letter-spacing="0">lambda = 0.5</text>
<rect x="575.9" y="424.8" width="9.2" height="8.9" fill="#36498e" stroke="#111" stroke-width="1.8"/>
<text x="589.6" y="432.8" font-family="Liberation Sans, sans-serif" font-size="13.2" font-weight="normal" text-anchor="start" fill="#1c1c1c" stroke="#1c1c1c" stroke-width="0.25" letter-spacing="0">lambda = 1</text>
<rect x="575.9" y="448.6" width="9.2" height="8.9" fill="#f2e83a" stroke="#111" stroke-width="1.8"/>
<text x="589.6" y="456.6" font-family="Liberation Sans, sans-serif" font-size="13.2" font-weight="normal" text-anchor="start" fill="#1c1c1c" stroke="#1c1c1c" stroke-width="0.25" letter-spacing="0">no SDPs</text>
<rect x="7.2" y="783" width="669.8" height="366" fill="none" stroke="#1c1c1c" stroke-width="1.8"/>
<line x1="117.80" y1="809.6" x2="674" y2="809.6" stroke="#1c1c1c" stroke-width="1.8" stroke-dasharray="1.8 5.783"/>
<line x1="117.80" y1="840.52" x2="674" y2="840.52" stroke="#1c1c1c" stroke-width="1.8" stroke-dasharray="1.8 5.783"/>
<line x1="117.80" y1="871.44" x2="674" y2="871.44" stroke="#1c1c1c" stroke-width="1.8" stroke-dasharray="1.8 5.783"/>
<line x1="117.80" y1="902.36" x2="674" y2="902.36" stroke="#1c1c1c" stroke-width="1.8" stroke-dasharray="1.8 5.783"/>
<line x1="117.80" y1="933.28" x2="674" y2="933.28" stroke="#1c1c1c" stroke-width="1.8" stroke-dasharray="1.8 5.783"/>
<line x1="117.80" y1="964.2" x2="674" y2="964.2" stroke="#1c1c1c" stroke-width="1.8" stroke-dasharray="1.8 5.783"/>
<line x1="117.80" y1="995.12" x2="523" y2="995.12" stroke="#1c1c1c" stroke-width="1.8" stroke-dasharray="1.8 5.783"/>
<line x1="656.19" y1="995.12" x2="674" y2="995.12" stroke="#1c1c1c" stroke-width="1.8" stroke-dasharray="1.8 5.783"/>
<line x1="117.80" y1="1026.04" x2="523" y2="1026.04" stroke="#1c1c1c" stroke-width="1.8" stroke-dasharray="1.8 5.783"/>
<line x1="656.19" y1="1026.04" x2="674" y2="1026.04" stroke="#1c1c1c" stroke-width="1.8" stroke-dasharray="1.8 5.783"/>
<polyline points="122.07,817.95 143.81,828.15 165.56,819.80 187.30,855.21 209.04,903.13 230.78,898.03 252.53,986.93 274.27,836.50 296.01,918.90 317.75,816.25 339.49,857.37 361.24,934.52 382.98,880.72 404.72,828.15 426.46,859.69 448.21,866.03 469.95,843.61 491.69,898.03 513.43,809.60 535.17,825.83 556.92,827.07 578.66,871.44 600.40,959.87 622.14,826.61 643.89,894.63 665.63,890.76" fill="none" stroke="#4aa843" stroke-width="1.7" stroke-linejoin="round"/>
<polyline points="122.07,823.05 143.81,845.00 165.56,809.60 187.30,855.21 209.04,809.60 230.78,879.94 252.53,986.93 274.27,875.46 296.01,906.23 317.75,828.77 339.49,858.61 361.24,1008.26 382.98,909.78 404.72,888.45 426.46,896.33 448.21,914.26 469.95,809.60 491.69,914.26 513.43,866.49 535.17,863.71 556.92,822.43 578.66,867.11 600.40,919.37 622.14,827.07 643.89,894.94 665.63,898.50" fill="none" stroke="#334d99" stroke-width="1.7" stroke-linejoin="round"/>
<polyline points="122.07,895.71 143.81,846.24 165.56,828.77 187.30,837.27 209.04,848.40 230.78,848.40 252.53,921.69 274.27,847.32 296.01,873.45 317.75,815.32 339.49,847.63 361.24,880.56 382.98,858.14 404.72,841.76 426.46,883.34 448.21,841.76 469.95,823.67 491.69,809.60 513.43,836.04 535.17,884.43 556.92,832.64 578.66,876.54 600.40,895.71 622.14,814.55 643.89,835.88 665.63,847.32" fill="none" stroke="#f0ec5c" stroke-width="1.7" stroke-linejoin="round"/>
<polygon points="122.07,813.35 126.67,817.95 122.07,822.55 117.47,817.95" fill="#4aa843"/>
<polygon points="143.81,823.55 148.41,828.15 143.81,832.75 139.21,828.15" fill="#4aa843"/>
<polygon points="165.56,815.20 170.16,819.80 165.56,824.40 160.96,819.80" fill="#4aa843"/>
<polygon points="187.30,850.61 191.90,855.21 187.30,859.81 182.70,855.21" fill="#4aa843"/>
<polygon points="209.04,898.53 213.64,903.13 209.04,907.73 204.44,903.13" fill="#4aa843"/>
<polygon points="230.78,893.43 235.38,898.03 230.78,902.63 226.18,898.03" fill="#4aa843"/>
<polygon points="252.53,982.33 257.13,986.93 252.53,991.53 247.93,986.93" fill="#4aa843"/>
<polygon points="274.27,831.90 278.87,836.50 274.27,841.10 269.67,836.50" fill="#4aa843"/>
<polygon points="296.01,914.30 300.61,918.90 296.01,923.50 291.41,918.90" fill="#4aa843"/>
<polygon points="317.75,811.65 322.35,816.25 317.75,820.85 313.15,816.25" fill="#4aa843"/>
<polygon points="339.49,852.77 344.09,857.37 339.49,861.97 334.89,857.37" fill="#4aa843"/>
<polygon points="361.24,929.92 365.84,934.52 361.24,939.12 356.64,934.52" fill="#4aa843"/>
<polygon points="382.98,876.12 387.58,880.72 382.98,885.32 378.38,880.72" fill="#4aa843"/>
<polygon points="404.72,823.55 409.32,828.15 404.72,832.75 400.12,828.15" fill="#4aa843"/>
<polygon points="426.46,855.09 431.06,859.69 426.46,864.29 421.86,859.69" fill="#4aa843"/>
<polygon points="448.21,861.43 452.81,866.03 448.21,870.63 443.61,866.03" fill="#4aa843"/>
<polygon points="469.95,839.01 474.55,843.61 469.95,848.21 465.35,843.61" fill="#4aa843"/>
<polygon points="491.69,893.43 496.29,898.03 491.69,902.63 487.09,898.03" fill="#4aa843"/>
<polygon points="513.43,805.00 518.03,809.60 513.43,814.20 508.83,809.60" fill="#4aa843"/>
<polygon points="535.17,821.23 539.77,825.83 535.17,830.43 530.57,825.83" fill="#4aa843"/>
<polygon points="556.92,822.47 561.52,827.07 556.92,831.67 552.32,827.07" fill="#4aa843"/>
<polygon points="578.66,866.84 583.26,871.44 578.66,876.04 574.06,871.44" fill="#4aa843"/>
<polygon points="600.40,955.27 605.00,959.87 600.40,964.47 595.80,959.87" fill="#4aa843"/>
<polygon points="622.14,822.01 626.74,826.61 622.14,831.21 617.54,826.61" fill="#4aa843"/>
<polygon points="643.89,890.03 648.49,894.63 643.89,899.23 639.29,894.63" fill="#4aa843"/>
<polygon points="665.63,886.16 670.23,890.76 665.63,895.37 661.03,890.76" fill="#4aa843"/>
<rect x="117.57" y="818.55" width="9.00" height="9.00" fill="#334d99"/>
<rect x="139.31" y="840.50" width="9.00" height="9.00" fill="#334d99"/>
<rect x="161.06" y="805.10" width="9.00" height="9.00" fill="#334d99"/>
<rect x="182.80" y="850.71" width="9.00" height="9.00" fill="#334d99"/>
<rect x="204.54" y="805.10" width="9.00" height="9.00" fill="#334d99"/>
<rect x="226.28" y="875.44" width="9.00" height="9.00" fill="#334d99"/>
<rect x="248.03" y="982.43" width="9.00" height="9.00" fill="#334d99"/>
<rect x="269.77" y="870.96" width="9.00" height="9.00" fill="#334d99"/>
<rect x="291.51" y="901.73" width="9.00" height="9.00" fill="#334d99"/>
<rect x="313.25" y="824.27" width="9.00" height="9.00" fill="#334d99"/>
<rect x="334.99" y="854.11" width="9.00" height="9.00" fill="#334d99"/>
<rect x="356.74" y="1003.76" width="9.00" height="9.00" fill="#334d99"/>
<rect x="378.48" y="905.28" width="9.00" height="9.00" fill="#334d99"/>
<rect x="400.22" y="883.95" width="9.00" height="9.00" fill="#334d99"/>
<rect x="421.96" y="891.83" width="9.00" height="9.00" fill="#334d99"/>
<rect x="443.71" y="909.76" width="9.00" height="9.00" fill="#334d99"/>
<rect x="465.45" y="805.10" width="9.00" height="9.00" fill="#334d99"/>
<rect x="487.19" y="909.76" width="9.00" height="9.00" fill="#334d99"/>
<rect x="508.93" y="861.99" width="9.00" height="9.00" fill="#334d99"/>
<rect x="530.67" y="859.21" width="9.00" height="9.00" fill="#334d99"/>
<rect x="552.42" y="817.93" width="9.00" height="9.00" fill="#334d99"/>
<rect x="574.16" y="862.61" width="9.00" height="9.00" fill="#334d99"/>
<rect x="595.90" y="914.87" width="9.00" height="9.00" fill="#334d99"/>
<rect x="617.64" y="822.57" width="9.00" height="9.00" fill="#334d99"/>
<rect x="639.39" y="890.44" width="9.00" height="9.00" fill="#334d99"/>
<rect x="661.13" y="894.00" width="9.00" height="9.00" fill="#334d99"/>
<polygon points="122.07,890.71 127.07,899.46 117.07,899.46" fill="#f0ec5c"/>
<polygon points="143.81,841.24 148.81,849.99 138.81,849.99" fill="#f0ec5c"/>
<polygon points="165.56,823.77 170.56,832.52 160.56,832.52" fill="#f0ec5c"/>
<polygon points="187.30,832.27 192.30,841.02 182.30,841.02" fill="#f0ec5c"/>
<polygon points="209.04,843.40 214.04,852.15 204.04,852.15" fill="#f0ec5c"/>
<polygon points="230.78,843.40 235.78,852.15 225.78,852.15" fill="#f0ec5c"/>
<polygon points="252.53,916.69 257.53,925.44 247.53,925.44" fill="#f0ec5c"/>
<polygon points="274.27,842.32 279.27,851.07 269.27,851.07" fill="#f0ec5c"/>
<polygon points="296.01,868.45 301.01,877.20 291.01,877.20" fill="#f0ec5c"/>
<polygon points="317.75,810.32 322.75,819.07 312.75,819.07" fill="#f0ec5c"/>
<polygon points="339.49,842.63 344.49,851.38 334.49,851.38" fill="#f0ec5c"/>
<polygon points="361.24,875.56 366.24,884.31 356.24,884.31" fill="#f0ec5c"/>
<polygon points="382.98,853.14 387.98,861.89 377.98,861.89" fill="#f0ec5c"/>
<polygon points="404.72,836.76 409.72,845.51 399.72,845.51" fill="#f0ec5c"/>
<polygon points="426.46,878.34 431.46,887.09 421.46,887.09" fill="#f0ec5c"/>
<polygon points="448.21,836.76 453.21,845.51 443.21,845.51" fill="#f0ec5c"/>
<polygon points="469.95,818.67 474.95,827.42 464.95,827.42" fill="#f0ec5c"/>
<polygon points="491.69,804.60 496.69,813.35 486.69,813.35" fill="#f0ec5c"/>
<polygon points="513.43,831.04 518.43,839.79 508.43,839.79" fill="#f0ec5c"/>
<polygon points="535.17,879.43 540.17,888.18 530.17,888.18" fill="#f0ec5c"/>
<polygon points="556.92,827.64 561.92,836.39 551.92,836.39" fill="#f0ec5c"/>
<polygon points="578.66,871.54 583.66,880.29 573.66,880.29" fill="#f0ec5c"/>
<polygon points="600.40,890.71 605.40,899.46 595.40,899.46" fill="#f0ec5c"/>
<polygon points="622.14,809.55 627.14,818.30 617.14,818.30" fill="#f0ec5c"/>
<polygon points="643.89,830.88 648.89,839.63 638.89,839.63" fill="#f0ec5c"/>
<polygon points="665.63,842.32 670.63,851.07 660.63,851.07" fill="#f0ec5c"/>
<line x1="110.9" y1="840.6" x2="680" y2="839.9" stroke="#cc2222" stroke-width="3.6"/>
<line x1="110.9" y1="808.8000000000001" x2="110.9" y2="1061.46" stroke="#1c1c1c" stroke-width="1.6"/>
<line x1="105.9" y1="1056.96" x2="676.2" y2="1056.96" stroke="#1c1c1c" stroke-width="1.6"/>
<line x1="105.9" y1="809.6" x2="110.9" y2="809.6" stroke="#1c1c1c" stroke-width="1.6"/>
<text transform="translate(96.4,815.8000000000001) scale(0.94,1)" font-family="Liberation Sans, sans-serif" font-size="16.4" font-weight="normal" text-anchor="end" fill="#1c1c1c" stroke="#1c1c1c" stroke-width="0.3" >1</text>
<line x1="105.9" y1="840.52" x2="110.9" y2="840.52" stroke="#1c1c1c" stroke-width="1.6"/>
<text transform="translate(96.4,846.72) scale(0.94,1)" font-family="Liberation Sans, sans-serif" font-size="16.4" font-weight="normal" text-anchor="end" fill="#1c1c1c" stroke="#1c1c1c" stroke-width="0.3" >0.01</text>
<line x1="105.9" y1="871.44" x2="110.9" y2="871.44" stroke="#1c1c1c" stroke-width="1.6"/>
<text transform="translate(96.4,877.6400000000001) scale(0.94,1)" font-family="Liberation Sans, sans-serif" font-size="16.4" font-weight="normal" text-anchor="end" fill="#1c1c1c" stroke="#1c1c1c" stroke-width="0.3" >0.0001</text>
<line x1="105.9" y1="902.36" x2="110.9" y2="902.36" stroke="#1c1c1c" stroke-width="1.6"/>
<text transform="translate(96.4,908.5600000000001) scale(0.94,1)" font-family="Liberation Sans, sans-serif" font-size="16.4" font-weight="normal" text-anchor="end" fill="#1c1c1c" stroke="#1c1c1c" stroke-width="0.3" >1E-06</text>
<line x1="105.9" y1="933.28" x2="110.9" y2="933.28" stroke="#1c1c1c" stroke-width="1.6"/>
<text transform="translate(96.4,939.48) scale(0.94,1)" font-family="Liberation Sans, sans-serif" font-size="16.4" font-weight="normal" text-anchor="end" fill="#1c1c1c" stroke="#1c1c1c" stroke-width="0.3" >1E-08</text>
<line x1="105.9" y1="964.2" x2="110.9" y2="964.2" stroke="#1c1c1c" stroke-width="1.6"/>
<text transform="translate(96.4,970.4000000000001) scale(0.94,1)" font-family="Liberation Sans, sans-serif" font-size="16.4" font-weight="normal" text-anchor="end" fill="#1c1c1c" stroke="#1c1c1c" stroke-width="0.3" >1E-10</text>
<line x1="105.9" y1="995.12" x2="110.9" y2="995.12" stroke="#1c1c1c" stroke-width="1.6"/>
<text transform="translate(96.4,1001.32) scale(0.94,1)" font-family="Liberation Sans, sans-serif" font-size="16.4" font-weight="normal" text-anchor="end" fill="#1c1c1c" stroke="#1c1c1c" stroke-width="0.3" >1E-12</text>
<line x1="105.9" y1="1026.04" x2="110.9" y2="1026.04" stroke="#1c1c1c" stroke-width="1.6"/>
<text transform="translate(96.4,1032.24) scale(0.94,1)" font-family="Liberation Sans, sans-serif" font-size="16.4" font-weight="normal" text-anchor="end" fill="#1c1c1c" stroke="#1c1c1c" stroke-width="0.3" >1E-14</text>
<line x1="105.9" y1="1056.96" x2="110.9" y2="1056.96" stroke="#1c1c1c" stroke-width="1.6"/>
<text transform="translate(96.4,1063.16) scale(0.94,1)" font-family="Liberation Sans, sans-serif" font-size="16.4" font-weight="normal" text-anchor="end" fill="#1c1c1c" stroke="#1c1c1c" stroke-width="0.3" >1E-16</text>
<line x1="132.64" y1="1056.96" x2="132.64" y2="1061.56" stroke="#1c1c1c" stroke-width="1.6"/>
<line x1="154.38" y1="1056.96" x2="154.38" y2="1061.56" stroke="#1c1c1c" stroke-width="1.6"/>
<line x1="176.13" y1="1056.96" x2="176.13" y2="1061.56" stroke="#1c1c1c" stroke-width="1.6"/>
<line x1="197.87" y1="1056.96" x2="197.87" y2="1061.56" stroke="#1c1c1c" stroke-width="1.6"/>
<line x1="219.61" y1="1056.96" x2="219.61" y2="1061.56" stroke="#1c1c1c" stroke-width="1.6"/>
<line x1="241.35" y1="1056.96" x2="241.35" y2="1061.56" stroke="#1c1c1c" stroke-width="1.6"/>
<line x1="263.10" y1="1056.96" x2="263.10" y2="1061.56" stroke="#1c1c1c" stroke-width="1.6"/>
<line x1="284.84" y1="1056.96" x2="284.84" y2="1061.56" stroke="#1c1c1c" stroke-width="1.6"/>
<line x1="306.58" y1="1056.96" x2="306.58" y2="1061.56" stroke="#1c1c1c" stroke-width="1.6"/>
<line x1="328.32" y1="1056.96" x2="328.32" y2="1061.56" stroke="#1c1c1c" stroke-width="1.6"/>
<line x1="350.07" y1="1056.96" x2="350.07" y2="1061.56" stroke="#1c1c1c" stroke-width="1.6"/>
<line x1="371.81" y1="1056.96" x2="371.81" y2="1061.56" stroke="#1c1c1c" stroke-width="1.6"/>
<line x1="393.55" y1="1056.96" x2="393.55" y2="1061.56" stroke="#1c1c1c" stroke-width="1.6"/>
<line x1="415.29" y1="1056.96" x2="415.29" y2="1061.56" stroke="#1c1c1c" stroke-width="1.6"/>
<line x1="437.03" y1="1056.96" x2="437.03" y2="1061.56" stroke="#1c1c1c" stroke-width="1.6"/>
<line x1="458.78" y1="1056.96" x2="458.78" y2="1061.56" stroke="#1c1c1c" stroke-width="1.6"/>
<line x1="480.52" y1="1056.96" x2="480.52" y2="1061.56" stroke="#1c1c1c" stroke-width="1.6"/>
<line x1="502.26" y1="1056.96" x2="502.26" y2="1061.56" stroke="#1c1c1c" stroke-width="1.6"/>
<line x1="524.00" y1="1056.96" x2="524.00" y2="1061.56" stroke="#1c1c1c" stroke-width="1.6"/>
<line x1="545.75" y1="1056.96" x2="545.75" y2="1061.56" stroke="#1c1c1c" stroke-width="1.6"/>
<line x1="567.49" y1="1056.96" x2="567.49" y2="1061.56" stroke="#1c1c1c" stroke-width="1.6"/>
<line x1="589.23" y1="1056.96" x2="589.23" y2="1061.56" stroke="#1c1c1c" stroke-width="1.6"/>
<line x1="610.97" y1="1056.96" x2="610.97" y2="1061.56" stroke="#1c1c1c" stroke-width="1.6"/>
<line x1="632.72" y1="1056.96" x2="632.72" y2="1061.56" stroke="#1c1c1c" stroke-width="1.6"/>
<line x1="654.46" y1="1056.96" x2="654.46" y2="1061.56" stroke="#1c1c1c" stroke-width="1.6"/>
<line x1="676.20" y1="1056.96" x2="676.20" y2="1061.56" stroke="#1c1c1c" stroke-width="1.6"/>
<text transform="translate(127.27115384615385,1068.7) rotate(-90) scale(0.86,1.0)" font-family="Liberation Sans, sans-serif" font-size="15.8" font-weight="normal" text-anchor="end" fill="#1c1c1c" stroke="#1c1c1c" stroke-width="0.3" letter-spacing="1.25">PF00108</text>
<text transform="translate(149.01346153846154,1068.7) rotate(-90) scale(0.86,1.0)" font-family="Liberation Sans, sans-serif" font-size="15.8" font-weight="normal" text-anchor="end" fill="#1c1c1c" stroke="#1c1c1c" stroke-width="0.3" letter-spacing="1.25">PF00128</text>
<text transform="translate(170.75576923076923,1068.7) rotate(-90) scale(0.86,1.0)" font-family="Liberation Sans, sans-serif" font-size="15.8" font-weight="normal" text-anchor="end" fill="#1c1c1c" stroke="#1c1c1c" stroke-width="0.3" letter-spacing="1.25">PF00135</text>
<text transform="translate(192.49807692307695,1068.7) rotate(-90) scale(0.86,1.0)" font-family="Liberation Sans, sans-serif" font-size="15.8" font-weight="normal" text-anchor="end" fill="#1c1c1c" stroke="#1c1c1c" stroke-width="0.3" letter-spacing="1.25">PF00215</text>
<text transform="translate(214.24038461538464,1068.7) rotate(-90) scale(0.86,1.0)" font-family="Liberation Sans, sans-serif" font-size="15.8" font-weight="normal" text-anchor="end" fill="#1c1c1c" stroke="#1c1c1c" stroke-width="0.3" letter-spacing="1.25">PF00278</text>
<text transform="translate(235.98269230769233,1068.7) rotate(-90) scale(0.86,1.0)" font-family="Liberation Sans, sans-serif" font-size="15.8" font-weight="normal" text-anchor="end" fill="#1c1c1c" stroke="#1c1c1c" stroke-width="0.3" letter-spacing="1.25">PF00293</text>
<text transform="translate(257.725,1068.7) rotate(-90) scale(0.86,1.0)" font-family="Liberation Sans, sans-serif" font-size="15.8" font-weight="normal" text-anchor="end" fill="#1c1c1c" stroke="#1c1c1c" stroke-width="0.3" letter-spacing="1.25">PF00348</text>
<text transform="translate(279.4673076923077,1068.7) rotate(-90) scale(0.86,1.0)" font-family="Liberation Sans, sans-serif" font-size="15.8" font-weight="normal" text-anchor="end" fill="#1c1c1c" stroke="#1c1c1c" stroke-width="0.3" letter-spacing="1.25">PF00351</text>
<text transform="translate(301.2096153846154,1068.7) rotate(-90) scale(0.86,1.0)" font-family="Liberation Sans, sans-serif" font-size="15.8" font-weight="normal" text-anchor="end" fill="#1c1c1c" stroke="#1c1c1c" stroke-width="0.3" letter-spacing="1.25">PF00579</text>
<text transform="translate(322.9519230769231,1068.7) rotate(-90) scale(0.86,1.0)" font-family="Liberation Sans, sans-serif" font-size="15.8" font-weight="normal" text-anchor="end" fill="#1c1c1c" stroke="#1c1c1c" stroke-width="0.3" letter-spacing="1.25">PF00583</text>
<text transform="translate(344.6942307692308,1068.7) rotate(-90) scale(0.86,1.0)" font-family="Liberation Sans, sans-serif" font-size="15.8" font-weight="normal" text-anchor="end" fill="#1c1c1c" stroke="#1c1c1c" stroke-width="0.3" letter-spacing="1.25">PF00590</text>
<text transform="translate(366.4365384615385,1068.7) rotate(-90) scale(0.86,1.0)" font-family="Liberation Sans, sans-serif" font-size="15.8" font-weight="normal" text-anchor="end" fill="#1c1c1c" stroke="#1c1c1c" stroke-width="0.3" letter-spacing="1.25">PF00755</text>
<text transform="translate(388.17884615384617,1068.7) rotate(-90) scale(0.86,1.0)" font-family="Liberation Sans, sans-serif" font-size="15.8" font-weight="normal" text-anchor="end" fill="#1c1c1c" stroke="#1c1c1c" stroke-width="0.3" letter-spacing="1.25">PF00871</text>
<text transform="translate(409.92115384615386,1068.7) rotate(-90) scale(0.86,1.0)" font-family="Liberation Sans, sans-serif" font-size="15.8" font-weight="normal" text-anchor="end" fill="#1c1c1c" stroke="#1c1c1c" stroke-width="0.3" letter-spacing="1.25">PF00896</text>
<text transform="translate(431.66346153846155,1068.7) rotate(-90) scale(0.86,1.0)" font-family="Liberation Sans, sans-serif" font-size="15.8" font-weight="normal" text-anchor="end" fill="#1c1c1c" stroke="#1c1c1c" stroke-width="0.3" letter-spacing="1.25">PF00962</text>
<text transform="translate(453.40576923076924,1068.7) rotate(-90) scale(0.86,1.0)" font-family="Liberation Sans, sans-serif" font-size="15.8" font-weight="normal" text-anchor="end" fill="#1c1c1c" stroke="#1c1c1c" stroke-width="0.3" letter-spacing="1.25">PF01048</text>
<text transform="translate(475.1480769230769,1068.7) rotate(-90) scale(0.86,1.0)" font-family="Liberation Sans, sans-serif" font-size="15.8" font-weight="normal" text-anchor="end" fill="#1c1c1c" stroke="#1c1c1c" stroke-width="0.3" letter-spacing="1.25">PF01112</text>
<text transform="translate(496.8903846153846,1068.7) rotate(-90) scale(0.86,1.0)" font-family="Liberation Sans, sans-serif" font-size="15.8" font-weight="normal" text-anchor="end" fill="#1c1c1c" stroke="#1c1c1c" stroke-width="0.3" letter-spacing="1.25">PF01135</text>
<text transform="translate(518.6326923076923,1068.7) rotate(-90) scale(0.86,1.0)" font-family="Liberation Sans, sans-serif" font-size="15.8" font-weight="normal" text-anchor="end" fill="#1c1c1c" stroke="#1c1c1c" stroke-width="0.3" letter-spacing="1.25">PF01202</text>
<text transform="translate(540.375,1068.7) rotate(-90) scale(0.86,1.0)" font-family="Liberation Sans, sans-serif" font-size="15.8" font-weight="normal" text-anchor="end" fill="#1c1c1c" stroke="#1c1c1c" stroke-width="0.3" letter-spacing="1.25">PF01234</text>
<text transform="translate(562.1173076923077,1068.7) rotate(-90) scale(0.86,1.0)" font-family="Liberation Sans, sans-serif" font-size="15.8" font-weight="normal" text-anchor="end" fill="#1c1c1c" stroke="#1c1c1c" stroke-width="0.3" letter-spacing="1.25">PF01467</text>
<text transform="translate(583.8596153846154,1068.7) rotate(-90) scale(0.86,1.0)" font-family="Liberation Sans, sans-serif" font-size="15.8" font-weight="normal" text-anchor="end" fill="#1c1c1c" stroke="#1c1c1c" stroke-width="0.3" letter-spacing="1.25">PF01712</text>
<text transform="translate(605.6019230769231,1068.7) rotate(-90) scale(0.86,1.0)" font-family="Liberation Sans, sans-serif" font-size="15.8" font-weight="normal" text-anchor="end" fill="#1c1c1c" stroke="#1c1c1c" stroke-width="0.3" letter-spacing="1.25">PF02274</text>
<text transform="translate(627.3442307692308,1068.7) rotate(-90) scale(0.86,1.0)" font-family="Liberation Sans, sans-serif" font-size="15.8" font-weight="normal" text-anchor="end" fill="#1c1c1c" stroke="#1c1c1c" stroke-width="0.3" letter-spacing="1.25">PF03061</text>
<text transform="translate(649.0865384615385,1068.7) rotate(-90) scale(0.86,1.0)" font-family="Liberation Sans, sans-serif" font-size="15.8" font-weight="normal" text-anchor="end" fill="#1c1c1c" stroke="#1c1c1c" stroke-width="0.3" letter-spacing="1.25">PF03171</text>
<text transform="translate(670.8288461538461,1068.7) rotate(-90) scale(0.86,1.0)" font-family="Liberation Sans, sans-serif" font-size="15.8" font-weight="normal" text-anchor="end" fill="#1c1c1c" stroke="#1c1c1c" stroke-width="0.3" letter-spacing="1.25">PF03414</text>
<text transform="translate(39.8,929.5) rotate(-90) scale(1.0,1.03)" font-family="Liberation Sans, sans-serif" font-size="16.1" font-weight="bold" text-anchor="middle" fill="#1c1c1c" stroke="#1c1c1c" stroke-width="0.2" >p-value</text>
<text x="39.4" y="801.7" font-family="Liberation Sans, sans-serif" font-size="19" font-weight="bold" text-anchor="start" fill="#1c1c1c" stroke="#1c1c1c" stroke-width="0.2" >C</text>
<rect x="523" y="980" width="133" height="72" fill="#fff"/>
<line x1="528.6" y1="993.6" x2="562.9" y2="993.6" stroke="#4aa843" stroke-width="1.7"/>
<polygon points="545.50,989.00 550.10,993.60 545.50,998.20 540.90,993.60" fill="#4aa843"/>
<text x="567.6" y="998.4" font-family="Liberation Sans, sans-serif" font-size="13.2" font-weight="normal" text-anchor="start" fill="#1c1c1c" stroke="#1c1c1c" stroke-width="0.3" >lambda = 0.5</text>
<line x1="528.6" y1="1017.7" x2="562.9" y2="1017.7" stroke="#334d99" stroke-width="1.7"/>
<rect x="541.00" y="1013.20" width="9.00" height="9.00" fill="#334d99"/>
<text x="567.6" y="1022.5" font-family="Liberation Sans, sans-serif" font-size="13.2" font-weight="normal" text-anchor="start" fill="#1c1c1c" stroke="#1c1c1c" stroke-width="0.3" >lambda = 1</text>
<line x1="528.6" y1="1041.5" x2="562.9" y2="1041.5" stroke="#f0ec5c" stroke-width="1.7"/>
<polygon points="545.50,1036.50 550.50,1045.25 540.50,1045.25" fill="#f0ec5c"/>
<text x="567.6" y="1046.3" font-family="Liberation Sans, sans-serif" font-size="13.2" font-weight="normal" text-anchor="start" fill="#1c1c1c" stroke="#1c1c1c" stroke-width="0.3" >no SDPs</text>
</svg>
</body></html>
